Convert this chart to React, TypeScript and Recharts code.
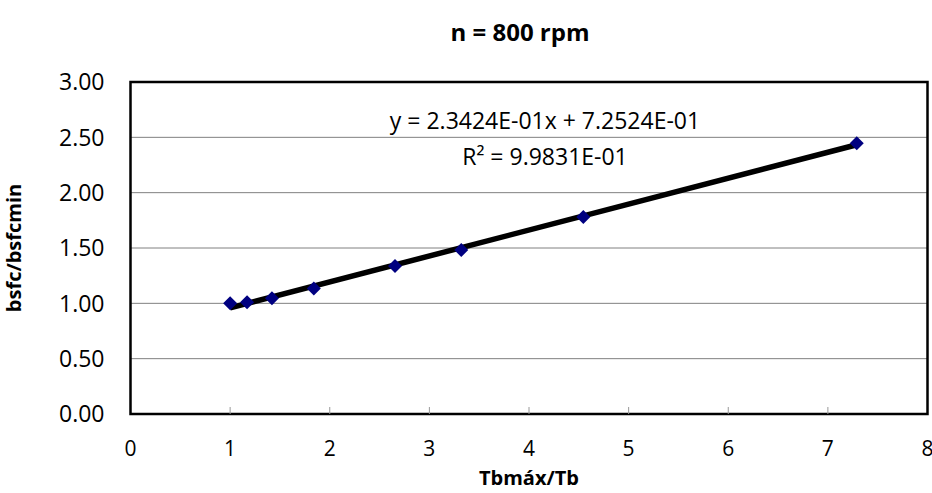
import React from "react";
import {
  ComposedChart,
  XAxis,
  YAxis,
  CartesianGrid,
  Scatter,
  Line,
  ReferenceArea,
  Label,
} from "recharts";

const ratioX = [1.0, 1.17, 1.42, 1.84, 2.655, 3.32, 4.545, 7.29];
const ratioY = [1.0, 1.01, 1.045, 1.135, 1.337, 1.482, 1.78, 2.446];
const xTicks = [0, 1, 2, 3, 4, 5, 6, 7, 8];
const yTicks = [0, 0.5, 1, 1.5, 2, 2.5, 3];
const trendSlope = 0.23424;
const trendIntercept = 0.72524;
const trendRange = [1.0, 7.29];
const titleText = "n = 800 rpm";
const eqText = "y = 2.3424E-01x + 7.2524E-01";
const r2Text = "R² = 9.9831E-01";

const points = ratioX.map((x, i) => ({ x, y: ratioY[i] }));
const trend = trendRange.map((x) => ({ x, y: trendSlope * x + trendIntercept }));

const FONT = "'Open Sans', 'Noto Sans', sans-serif";

const Diamond = (props: any) => {
  const { cx, cy } = props;
  const r = 7;
  return (
    <polygon
      points={`${cx},${cy - r} ${cx + r},${cy} ${cx},${cy + r} ${cx - r},${cy}`}
      fill="#000080"
    />
  );
};

const XTick = (props: any) => {
  const { x, y, payload } = props;
  const v = payload.value;
  return (
    <g>
      {v > 0 && v < 8 && (
        <line x1={x} x2={x} y1={y - 27} y2={y - 34} stroke="#999" strokeWidth={1} />
      )}
      <text x={x} y={y} dy="0.72em" textAnchor="middle" fontSize={21} fontFamily={FONT} fill="#000">
        {v}
      </text>
    </g>
  );
};

const YTick = (props: any) => {
  const { x, y, payload } = props;
  return (
    <text x={x} y={y} dy="0.36em" textAnchor="end" fontSize={23} fontFamily={FONT} fill="#000">
      {payload.value.toFixed(2)}
    </text>
  );
};

export default function App() {
  return (
    <div style={{ position: "absolute", left: 0, top: 0, width: 932, height: 493, background: "#fff" }}>
      <ComposedChart
        width={932}
        height={493}
        margin={{ top: 82, right: 4.5, bottom: 0, left: 0 }}
      >
        <CartesianGrid vertical={false} stroke="#808080" strokeWidth={1} />
        <XAxis
          type="number"
          dataKey="x"
          domain={[0, 8]}
          ticks={xTicks}
          interval={0}
          tick={<XTick />}
          tickSize={6}
          tickMargin={21}
          tickLine={false}
          axisLine={false}
          height={79}
        >
          <Label
            value="Tbmáx/Tb"
            position="insideBottom"
            offset={8}
            style={{ fontFamily: FONT, fontWeight: 700, fontSize: 20, fill: "#000" }}
          />
        </XAxis>
        <YAxis
          type="number"
          dataKey="y"
          domain={[0, 3]}
          ticks={yTicks}
          interval={0}
          tick={<YTick />}
          tickSize={6}
          tickMargin={20}
          tickLine={false}
          axisLine={false}
          width={130.5}
        >
          <Label
            value="bsfc/bsfcmin"
            angle={-90}
            position="insideLeft"
            offset={14}
            style={{ fontFamily: FONT, fontWeight: 700, fontSize: 20, fill: "#000", textAnchor: "middle" }}
          />
        </YAxis>
        <ReferenceArea
          x1={0}
          x2={8}
          y1={0}
          y2={3}
          fill="none"
          stroke="#000"
          strokeWidth={2.5}
          ifOverflow="visible"
        />
        <Scatter data={points} shape={<Diamond />} isAnimationActive={false} />
        <Line
          data={trend}
          dataKey="y"
          stroke="#000"
          strokeWidth={5.5}
          dot={false}
          isAnimationActive={false}
          type="linear"
        />
      </ComposedChart>
      <div
        style={{
          position: "absolute",
          left: 0,
          width: 1040,
          top: 16,
          textAlign: "center",
          fontFamily: FONT,
          fontWeight: 700,
          fontSize: 24,
          lineHeight: "32px",
          color: "#000",
        }}
      >
        {titleText}
      </div>
      <div
        style={{
          position: "absolute",
          left: 345,
          width: 400,
          top: 102,
          textAlign: "center",
          fontFamily: FONT,
          fontSize: 23,
          lineHeight: "36px",
          color: "#000",
        }}
      >
        <div>{eqText}</div>
        <div>{r2Text}</div>
      </div>
    </div>
  );
}
